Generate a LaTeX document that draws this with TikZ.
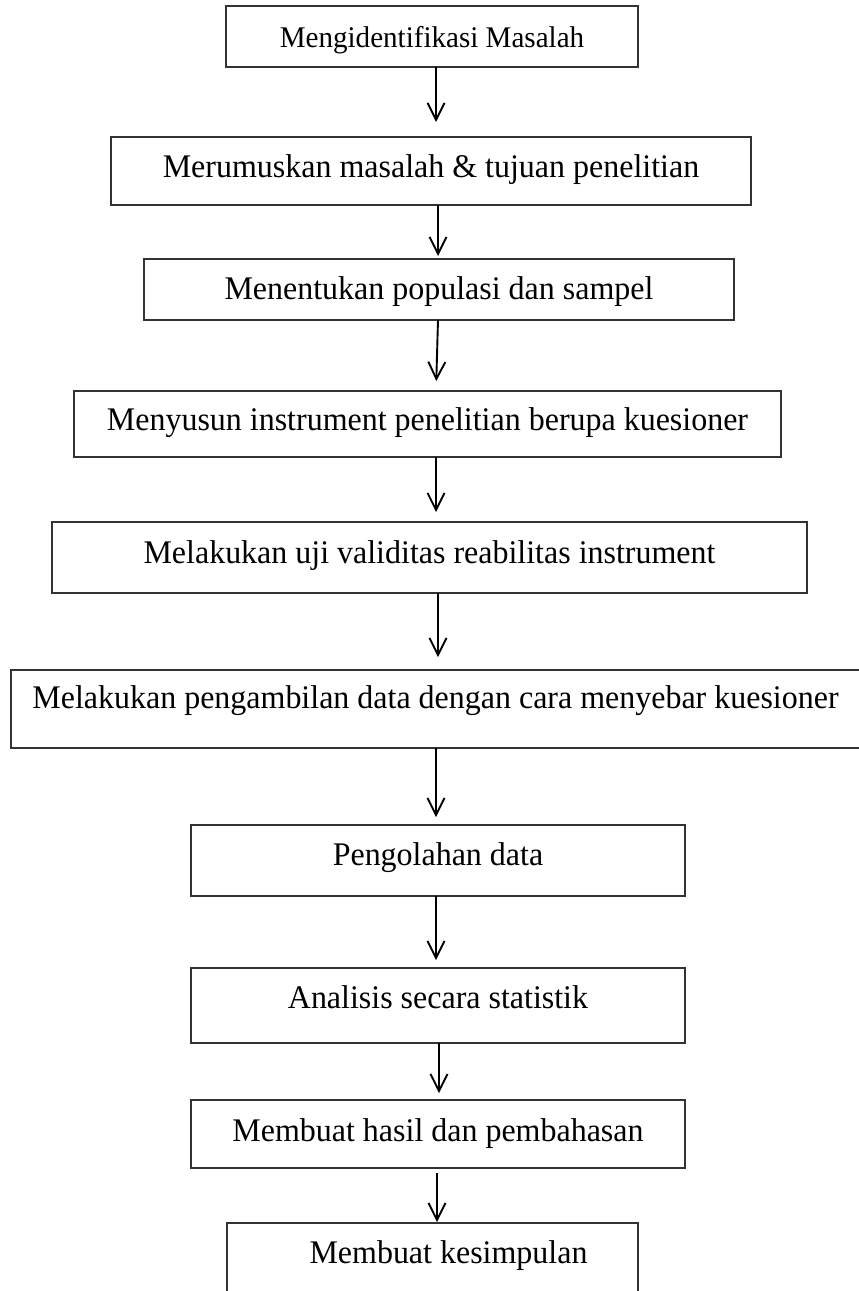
\documentclass[tikz,border=0pt]{standalone}
\usepackage{fontspec}
\setmainfont{Liberation Serif}[FakeStretch=0.969]
\usetikzlibrary{arrows.meta}
\definecolor{boxgray}{HTML}{333333}
\newcommand{\fsz}{\fontsize{33}{40}\selectfont}
\newcommand{\fszsmall}{\fontsize{30}{36}\selectfont}
\begin{document}
\begin{tikzpicture}[x=1pt,y=-1pt,
  stepbox/.style={draw=boxgray, line width=1.3pt, inner xsep=0pt, inner ysep=0pt,
    outer sep=0pt, anchor=base, font=\fsz},
  arr/.style={draw=black, line width=1.9pt, -{Straight Barb[length=17pt,width=17pt,line width=1.9pt]}}]
\useasboundingbox (0,0) rectangle (859,1291);
\node[stepbox, font=\fszsmall, minimum width=412pt, text height=41pt, text depth=20pt] (b1) at (432,47) {Mengidentifikasi Masalah};
\node[stepbox, minimum width=640pt, text height=40pt, text depth=28pt] (b2) at (431,177) {Merumuskan masalah \& tujuan penelitian};
\node[stepbox, minimum width=590pt, text height=40pt, text depth=21pt] (b3) at (439,299) {Menentukan populasi dan sampel};
\node[stepbox, minimum width=707pt, text height=39pt, text depth=27pt] (b4) at (427.5,430) {Menyusun instrument penelitian berupa kuesioner};
\node[stepbox, minimum width=755pt, text height=41pt, text depth=30pt] (b5) at (429.5,563) {Melakukan uji validitas reabilitas instrument};
\node[stepbox, minimum width=849pt, text height=38pt, text depth=40pt] (b6) at (435.5,708) {Melakukan pengambilan data dengan cara menyebar kuesioner};
\node[stepbox, minimum width=494pt, text height=40pt, text depth=31pt] (b7) at (438,865) {Pengolahan data};
\node[stepbox, minimum width=494pt, text height=40pt, text depth=35pt] (b8) at (438,1008) {Analisis secara statistik};
\node[stepbox, minimum width=494pt, text height=41pt, text depth=27pt] (b9) at (438,1141) {Membuat hasil dan pembahasan};
\node[stepbox, minimum width=411pt, text height=40pt, text depth=47pt] (b10) at (432.5,1263) {\hspace*{32pt}Membuat kesimpulan};

\draw[arr, shorten >=15pt] ([xshift=4pt]b1.south) -- ([xshift=5pt]b2.north);
\draw[arr, shorten >=3pt] ([xshift=7pt]b2.south) -- ([xshift=-1pt]b3.north);
\draw[arr, shorten >=10pt] ([xshift=-1pt]b3.south) -- ([xshift=8.5pt]b4.north);
\draw[arr, shorten >=10pt] ([xshift=8.5pt]b4.south) -- ([xshift=6.5pt]b5.north);
\draw[arr, shorten >=13pt] ([xshift=8.5pt]b5.south) -- ([xshift=2.5pt]b6.north);
\draw[arr, shorten >=8pt] ([xshift=0.5pt]b6.south) -- ([xshift=-2pt]b7.north);
\draw[arr, shorten >=8pt] ([xshift=-2pt]b7.south) -- ([xshift=-2pt]b8.north);
\draw[arr, shorten >=7pt] ([xshift=1pt]b8.south) -- ([xshift=1pt]b9.north);
\draw[arr, shorten <=5pt, shorten >=1pt] ([xshift=-1pt]b9.south) -- ([xshift=4.5pt]b10.north);
\end{tikzpicture}
\end{document}
